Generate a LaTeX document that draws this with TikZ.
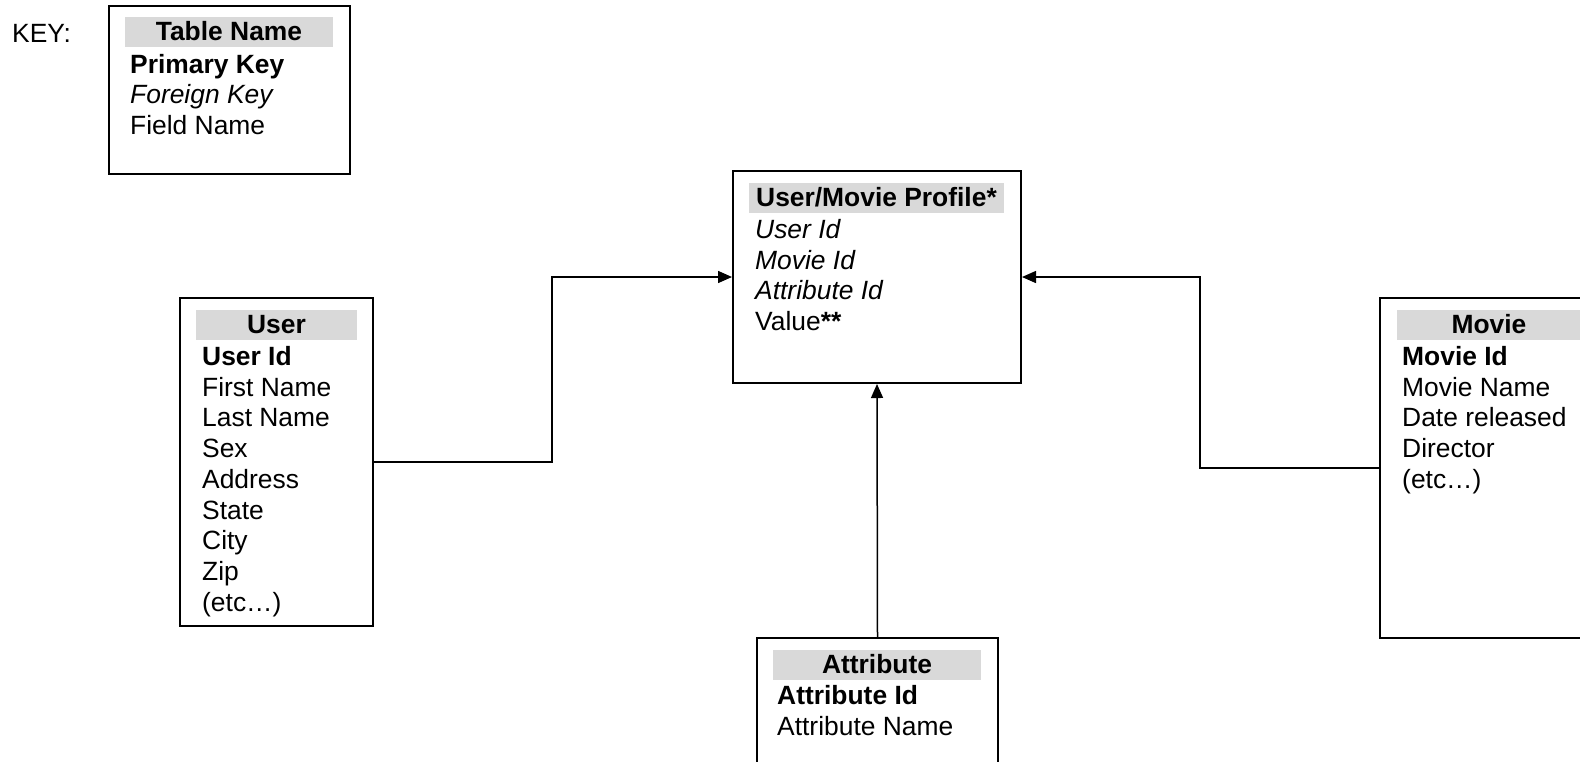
\documentclass[tikz,border=0pt]{standalone}
\usepackage{fontspec}
\setmainfont{Liberation Sans}
\usetikzlibrary{arrows.meta}

\definecolor{hdrgray}{HTML}{D9D9D9}
\newcommand{\tblfont}{\fontsize{26.4}{30.7}\selectfont}

\tikzset{
  tbl/.style={draw, line width=2pt, inner sep=0pt},
  hdr/.style={fill=hdrgray, inner xsep=0pt, inner ysep=2.5pt, text height=21pt, text depth=4pt, font=\tblfont\bfseries, anchor=north},
  fld/.style={anchor=base west, inner sep=0pt},
  conn/.style={line width=1.5pt, -{Triangle[length=14pt,width=12pt]}}
}

\begin{document}
\begin{tikzpicture}[x=1pt,y=-1pt,font=\tblfont]

            \useasboundingbox (0,0) rectangle (1580,761);

            % key
            \node[fld] (keylbl) at (12,42.5) {KEY:};
            \node[tbl, minimum width=241pt, minimum height=168pt] (key) at (229.5,90) {};
            \node[hdr, minimum width=208pt] (keyhdr) at (229,17) {Table Name};
            \node[fld] (key1) at (130,73) {\textbf{Primary Key}};
            \node[fld] (key2) at (130,103.7) {\textit{Foreign Key}};
            \node[fld] (key3) at (130,134.4) {Field Name};

            % tables
            \node[tbl, minimum width=193pt, minimum height=328pt] (user) at (276.5,462) {};
            \node[hdr, minimum width=161pt] (userhdr) at (276.5,310) {User};
            \foreach \fld [count=\i from 0] in {\textbf{User Id}, First Name, Last Name, Sex, Address, State, City, Zip, {(etc…)}}
              \node[fld] (user-f\i) at (202,365.5+30.7*\i) {\fld};

            \node[tbl, minimum width=288pt, minimum height=212pt] (profile) at (877,277) {};
            \node[hdr, minimum width=255pt] (profilehdr) at (876.5,183) {User/Movie Profile*};
            \foreach \fld [count=\i from 0] in {\textit{User Id}, \textit{Movie Id}, \textit{Attribute Id}, Value\textbf{**}}
              \node[fld] (profile-f\i) at (755,238.5+30.7*\i) {\fld};

            \node[tbl, minimum width=218pt, minimum height=340pt] (movie) at (1489,468) {};
            \node[hdr, minimum width=184pt] (moviehdr) at (1489,310) {Movie};
            \foreach \fld [count=\i from 0] in {\textbf{Movie Id}, Movie Name, Date released, Director, {(etc…)}}
              \node[fld] (movie-f\i) at (1402,365.5+30.7*\i) {\fld};

            \node[tbl, minimum width=241pt, minimum height=162pt] (attrib) at (877.5,719) {};
            \node[hdr, minimum width=208pt] (attribhdr) at (877,650) {Attribute};
            \foreach \fld [count=\i from 0] in {\textbf{Attribute Id}, Attribute Name}
              \node[fld] (attrib-f\i) at (777,704.5+30.7*\i) {\fld};

            % links
            \coordinate (ujog) at (552,0);
            \coordinate (mjog) at (1200,0);
            \draw[conn] (user.east) -- (user.east -| ujog) |- (profile.west);
            \draw[conn] (movie.west) -- (movie.west -| mjog) |- (profile.east);
            \draw[conn] (attrib.north) -- (profile.south);

\end{tikzpicture}
\end{document}
